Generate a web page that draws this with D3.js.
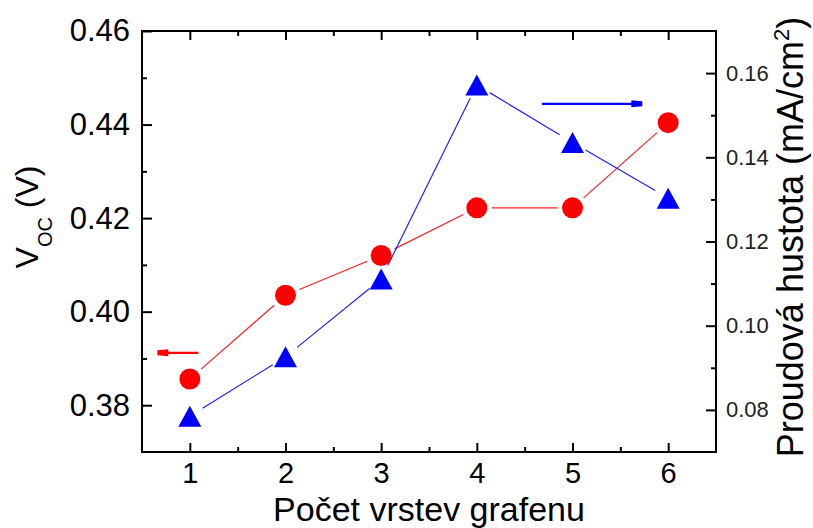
<!DOCTYPE html>
<html>
<head>
<meta charset="utf-8">
<script src="https://cdn.jsdelivr.net/npm/d3@7"></script>
<style>
  body { margin: 0; background: #fff; }
  text { font-family: "Liberation Sans", Arial, sans-serif; }
</style>
</head>
<body>
<div id="chart"></div>
<script>
// number of graphene layers
var layers = [1, 2, 3, 4, 5, 6];
// open circuit voltage (V), left axis
var voc = [0.3856, 0.4035, 0.4120, 0.4222, 0.4222, 0.4404];
// current density (mA/cm2), right axis
var jsc = [0.0785, 0.0926, 0.1111, 0.1572, 0.1435, 0.1303];

var xTicks = [1, 2, 3, 4, 5, 6];
var xMinor = [1.5, 2.5, 3.5, 4.5, 5.5];
var vocTicks = [0.38, 0.40, 0.42, 0.44, 0.46];
var vocMinor = [0.39, 0.41, 0.43, 0.45];
var jscTicks = [0.08, 0.10, 0.12, 0.14, 0.16];
var jscMinor = [0.09, 0.11, 0.13, 0.15];

// arrows that point to the axis each series belongs to
var redArrow = {y: 0.3912, x0: 1.09, x1: 0.66};
var blueArrow = {y: 0.1527, x0: 4.68, x1: 5.73};

var width = 813, height = 528;
var margin = {top: 31, right: 97, bottom: 76, left: 142};
var w = width - margin.left - margin.right;
var h = height - margin.top - margin.bottom;

var svg = d3.select("#chart").append("svg")
    .attr("width", width)
    .attr("height", height);

var g = svg.append("g")
    .attr("transform", "translate(" + margin.left + "," + margin.top + ")");

var x = d3.scaleLinear().domain([0.5, 6.5]).range([0, w]);
var yL = d3.scaleLinear().domain([0.37, 0.46]).range([h, 0]);
var yR = d3.scaleLinear().domain([0.07, 0.17]).range([h, 0]);

function styleAxis(sel, fontSize, color) {
    sel.select(".domain").remove();
    sel.selectAll(".tick line").attr("stroke", "#000").attr("stroke-width", 2);
    sel.selectAll(".tick text")
        .style("font-size", fontSize + "px")
        .attr("fill", color);
}

// bottom axis
g.append("g")
    .attr("transform", "translate(0," + h + ")")
    .call(d3.axisBottom(x).tickValues(xTicks).tickFormat(d3.format("d")).tickSize(-9).tickPadding(10))
    .call(styleAxis, 29, "#000");
g.append("g")
    .attr("transform", "translate(0," + h + ")")
    .call(d3.axisBottom(x).tickValues(xMinor).tickFormat("").tickSize(-5))
    .call(styleAxis, 29, "#000");

// top axis (ticks only)
g.append("g")
    .call(d3.axisTop(x).tickValues(xTicks).tickFormat("").tickSize(-9))
    .call(styleAxis, 29, "#000");
g.append("g")
    .call(d3.axisTop(x).tickValues(xMinor).tickFormat("").tickSize(-5))
    .call(styleAxis, 29, "#000");

// left axis
g.append("g")
    .call(d3.axisLeft(yL).tickValues(vocTicks).tickFormat(d3.format(".2f")).tickSize(-10).tickPadding(12))
    .call(styleAxis, 31, "#000");
g.append("g")
    .call(d3.axisLeft(yL).tickValues(vocMinor).tickFormat("").tickSize(-5))
    .call(styleAxis, 31, "#000");

// right axis
g.append("g")
    .attr("transform", "translate(" + w + ",0)")
    .call(d3.axisRight(yR).tickValues(jscTicks).tickFormat(d3.format(".2f")).tickSize(-10).tickPadding(10))
    .call(styleAxis, 22, "#222");
g.append("g")
    .attr("transform", "translate(" + w + ",0)")
    .call(d3.axisRight(yR).tickValues(jscMinor).tickFormat("").tickSize(-5))
    .call(styleAxis, 22, "#222");

// frame
g.append("rect")
    .attr("width", w)
    .attr("height", h)
    .attr("fill", "none")
    .attr("stroke", "#000")
    .attr("stroke-width", 2);

// line segments with a gap around each marker
function gapSegments(xs, ys, gap) {
    var segs = [];
    for (var i = 0; i < xs.length - 1; i++) {
        var dx = xs[i + 1] - xs[i], dy = ys[i + 1] - ys[i];
        var len = Math.sqrt(dx * dx + dy * dy);
        var ux = dx / len, uy = dy / len;
        segs.push({
            x1: xs[i] + ux * gap, y1: ys[i] + uy * gap,
            x2: xs[i + 1] - ux * gap, y2: ys[i + 1] - uy * gap
        });
    }
    return segs;
}

var px = layers.map(function(d) { return x(d); });
var pyRed = voc.map(function(d) { return yL(d); });
var pyBlue = jsc.map(function(d) { return yR(d); });

g.append("g")
    .selectAll("line")
    .data(gapSegments(px, pyRed, 15))
    .enter().append("line")
    .attr("x1", function(d) { return d.x1; })
    .attr("y1", function(d) { return d.y1; })
    .attr("x2", function(d) { return d.x2; })
    .attr("y2", function(d) { return d.y2; })
    .attr("stroke", "#ff2020")
    .attr("stroke-width", 1.2);

g.append("g")
    .selectAll("line")
    .data(gapSegments(px, pyBlue, 15))
    .enter().append("line")
    .attr("x1", function(d) { return d.x1; })
    .attr("y1", function(d) { return d.y1; })
    .attr("x2", function(d) { return d.x2; })
    .attr("y2", function(d) { return d.y2; })
    .attr("stroke", "#2020ff")
    .attr("stroke-width", 1.2);

// markers
g.append("g")
    .selectAll("circle")
    .data(layers)
    .enter().append("circle")
    .attr("cx", function(d, i) { return x(d); })
    .attr("cy", function(d, i) { return yL(voc[i]); })
    .attr("r", 10.5)
    .attr("fill", "#ff0000");

var triW = 23, triH = 21;
g.append("g")
    .selectAll("path")
    .data(layers)
    .enter().append("path")
    .attr("d", "M0," + (-triH / 2) + "L" + (triW / 2) + "," + (triH / 2) + "L" + (-triW / 2) + "," + (triH / 2) + "Z")
    .attr("transform", function(d, i) {
        return "translate(" + x(d) + "," + yR(jsc[i]) + ")";
    })
    .attr("fill", "#0000ff");

// arrows
function arrow(xa, xb, yy, color) {
    var dir = xb > xa ? 1 : -1;
    var tipX = x(xb), baseX = x(xa), yp = yy;
    g.append("line")
        .attr("x1", baseX).attr("y1", yp)
        .attr("x2", tipX - dir * 6).attr("y2", yp)
        .attr("stroke", color)
        .attr("stroke-width", 2.2);
    g.append("path")
        .attr("d", "M" + tipX + "," + (yp - 2.5) +
            "L" + (tipX - dir * 11) + "," + (yp - 3.5) +
            "L" + (tipX - dir * 11) + "," + (yp + 3.5) +
            "L" + tipX + "," + (yp + 2.5) + "Z")
        .attr("fill", color);
}
arrow(redArrow.x0, redArrow.x1, yL(redArrow.y), "#ff0000");
arrow(blueArrow.x0, blueArrow.x1, yR(blueArrow.y), "#0000ff");

// axis titles
svg.append("text")
    .attr("x", margin.left + w / 2)
    .attr("y", 520.5)
    .attr("text-anchor", "middle")
    .style("font-size", "34px")
    .text("Počet vrstev grafenu");

var lt = svg.append("text")
    .attr("transform", "translate(38,217) rotate(-90)")
    .attr("text-anchor", "middle")
    .style("font-size", "32px");
lt.append("tspan").text("V");
lt.append("tspan").attr("dy", 14).style("font-size", "20px").text("OC");
lt.append("tspan").attr("dy", -14).text(" (V)");

var rt = svg.append("text")
    .attr("transform", "translate(803,237) rotate(-90)")
    .attr("text-anchor", "middle")
    .style("font-size", "36px");
rt.append("tspan").text("Proudová hustota (mA/cm");
rt.append("tspan").attr("dy", -14).style("font-size", "22px").text("2");
rt.append("tspan").attr("dy", 14).text(")");
</script>
</body>
</html>
